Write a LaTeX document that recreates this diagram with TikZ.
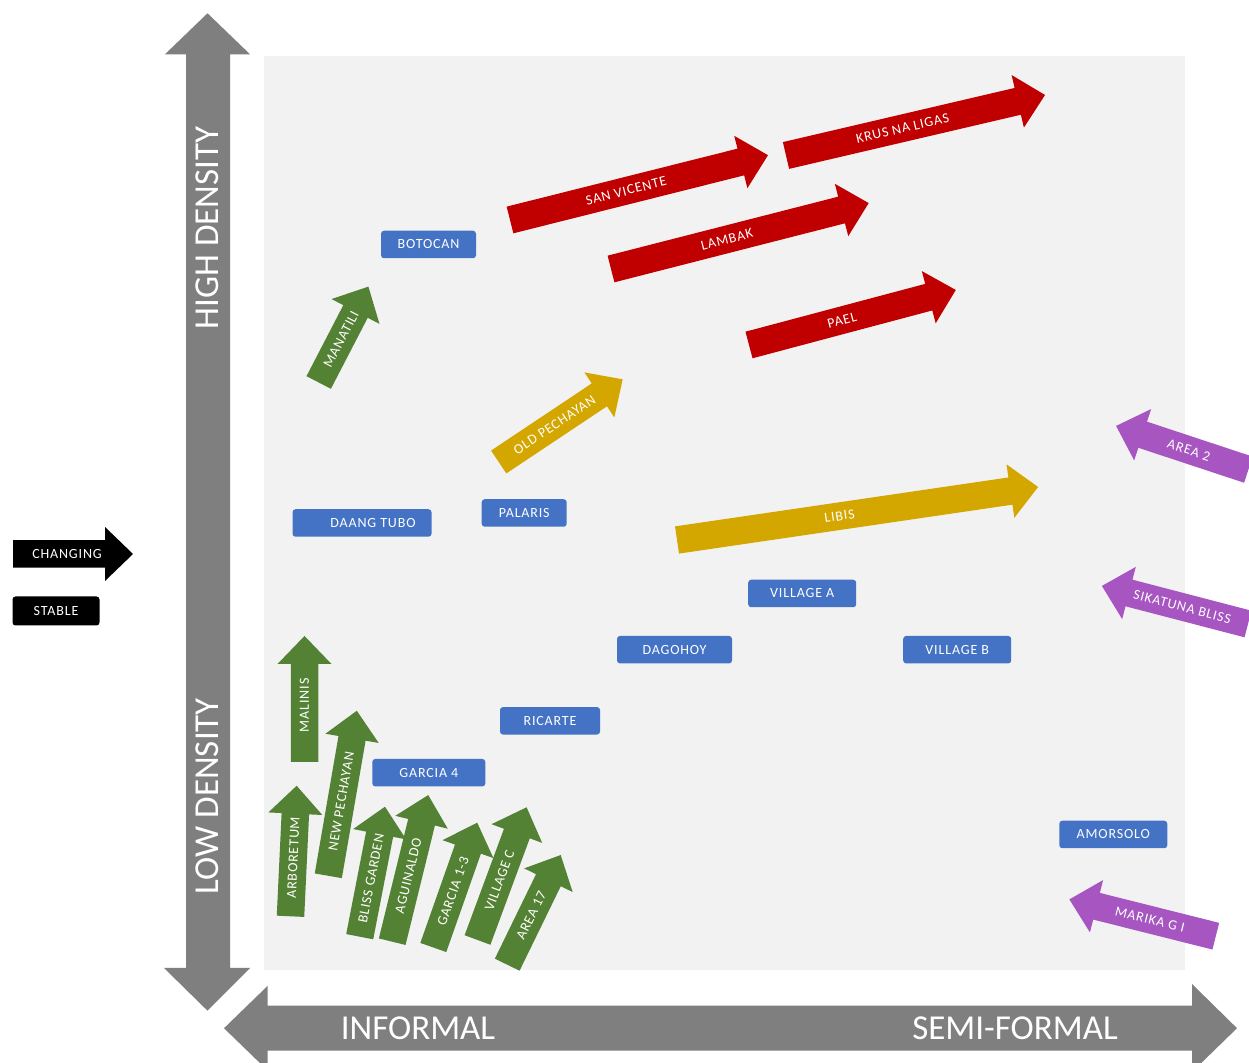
\documentclass[tikz,border=0pt]{standalone}
\usepackage{fontspec}
\setmainfont{Carlito}
\definecolor{axisgray}{HTML}{7F7F7F}
\definecolor{panelgray}{HTML}{F2F2F2}
\definecolor{stableblue}{HTML}{4472C4}
\definecolor{chred}{HTML}{C00000}
\definecolor{chgreen}{HTML}{548235}
\definecolor{chgold}{HTML}{D4A600}
\definecolor{chpurple}{HTML}{A655C1}
\newcommand\boxfont{\fontsize{14}{16}\selectfont\addfontfeatures{LetterSpace=6}}
\newcommand\arrfont{\fontsize{14}{16}\selectfont\addfontfeatures{LetterSpace=6}}
\newcommand\axisfont{\fontsize{35}{40}\selectfont}
\tikzset{
  stablebox/.style={fill=stableblue, rounded corners=3pt, text=white, font=\boxfont, minimum height=27.5pt, inner sep=0pt},
  legendbox/.style={fill=black, rounded corners=3pt, text=white, font=\boxfont, minimum height=29pt, minimum width=87pt, inner sep=0pt},
  arrowlabel/.style={text=white, font=\arrfont, inner sep=0pt, transform shape},
  axislabel/.style={text=white, font=\axisfont, inner sep=0pt},
}
% #1 name, #2 colour, #3 tail centre, #4 angle, #5 length, #6 label, #7 extra text rotation
\newcommand\blockarrow[7]{%
  \begin{scope}[shift={#3},rotate=#4]
    \fill[#2] (0,-13.75) -- ({#5-28},-13.75) -- ({#5-28},-27) -- (#5,0) -- ({#5-28},27) -- ({#5-28},13.75) -- (0,13.75) -- cycle;
    \node[arrowlabel,rotate=#7] (#1) at ({0.45*#5},0) {#6};
  \end{scope}}
\begin{document}
\begin{tikzpicture}[x=1pt,y=1pt]
\clip (0,0) rectangle (1249,1062);
\fill[white] (0,0) rectangle (1249,1062);
% panel
\fill[panelgray] (264,92) rectangle (1185,1006);
% vertical axis
\fill[axisgray] (186,94) -- (186,1007.7) -- (165,1007.7) -- (207.5,1048.7) -- (250,1007.7) -- (230,1007.7) -- (230,94) -- (250,94) -- (207.5,51.3) -- (164,94) -- cycle;
% horizontal axis
\fill[axisgray] (224,33.8) -- (267.5,76) -- (267.5,56.3) -- (1192,56.3) -- (1192,78) -- (1237,33.8) -- (1192,-10) -- (1192,11.3) -- (267.5,11.3) -- (267.5,-8.4) -- cycle;
\node[axislabel,rotate=90] (high) at (207.5,834) {HIGH DENSITY};
\node[axislabel,rotate=90] (low) at (207.5,266) {LOW DENSITY};
\node[axislabel] (informal) at (418,34) {INFORMAL};
\node[axislabel] (semiformal) at (1015,34) {SEMI-FORMAL};
% legend
\blockarrow{changing}{black}{(13,508)}{0}{120}{CHANGING}{0}
\node[legendbox] (stable) at (56,451) {STABLE};
% stable boxes
\node[stablebox, minimum width=95pt] (botocan) at (428.5,817.5) {BOTOCAN};
\node[stablebox, minimum width=139pt] (daangtubo) at (362,539) {\hspace*{22pt}DAANG TUBO};
\node[stablebox, minimum width=85pt] (palaris) at (524.2,549) {PALARIS};
\node[stablebox, minimum width=108pt] (villagea) at (802.2,468.5) {VILLAGE A};
\node[stablebox, minimum width=115pt] (dagohoy) at (674.5,412.3) {DAGOHOY};
\node[stablebox, minimum width=108pt] (villageb) at (957.2,412.3) {VILLAGE B};
\node[stablebox, minimum width=100pt] (ricarte) at (550,341.2) {RICARTE};
\node[stablebox, minimum width=113pt] (garcia4) at (428.8,289.3) {GARCIA 4};
\node[stablebox, minimum width=108pt] (amorsolo) at (1113.3,227.5) {AMORSOLO};
% red changing arrows
\blockarrow{sanvicente}{chred}{(510,842)}{14.1}{266}{SAN VICENTE}{0}
\blockarrow{krus}{chred}{(786,906.5)}{13.15}{266}{KRUS NA LIGAS}{0}
\blockarrow{lambak}{chred}{(611,793)}{14.35}{266}{LAMBAK}{0}
\blockarrow{pael}{chred}{(749,717)}{14.9}{214}{PAEL}{0}
% gold
\blockarrow{libis}{chgold}{(677,522)}{8.35}{365}{LIBIS}{0}
\blockarrow{oldpechayan}{chgold}{(498.7,600)}{33.7}{149}{OLD PECHAYAN}{0}
% green
\blockarrow{manatili}{chgreen}{(318.7,679.5)}{62.6}{108}{MANATILI}{0}
\blockarrow{malinis}{chgreen}{(304.5,300)}{90}{126}{MALINIS}{0}
\blockarrow{arboretum}{chgreen}{(290.5,145.7)}{87.3}{130.7}{ARBORETUM}{0}
\blockarrow{newpechayan}{chgreen}{(328.3,186.2)}{80.2}{167.5}{NEW PECHAYAN}{0}
\blockarrow{blissgarden}{chgreen}{(359.7,125.3)}{79}{132.4}{BLISS GARDEN}{0}
\blockarrow{aguinaldo}{chgreen}{(392.2,120.3)}{76.2}{151}{AGUINALDO}{0}
\blockarrow{garcia13}{chgreen}{(433.3,114.5)}{70.6}{132.3}{GARCIA 1-3}{0}
\blockarrow{villagec}{chgreen}{(477.5,122)}{69.7}{141.5}{VILLAGE C}{0}
\blockarrow{area17}{chgreen}{(507.2,97.3)}{64}{122}{AREA 17}{0}
% purple
\blockarrow{area2}{chpurple}{(1248.4,592.3)}{161.7}{139.4}{AREA 2}{180}
\blockarrow{sikatuna}{chpurple}{(1248,438)}{165.4}{151}{SIKATUNA BLISS}{180}
\blockarrow{marikagi}{chpurple}{(1215.8,125.8)}{165.9}{151}{MARIKA G I}{180}
\end{tikzpicture}
\end{document}
